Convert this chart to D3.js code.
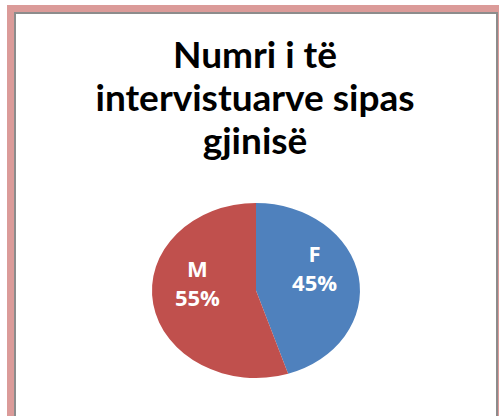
<!DOCTYPE html>
<html>
<head>
<meta charset="utf-8">
<script src="https://cdn.jsdelivr.net/npm/d3@7"></script>
<style>
  body { margin: 0; background: #fff; }
  svg { display: block; }
</style>
</head>
<body>
<div class="chart"></div>
<script>
// data
var categories = ["F", "M"]
var values = [45, 55]
var colors = ["#4F81BD", "#C0504D"]
var titleLines = ["Numri i të", "intervistuarve sipas", "gjinisë"]

var width = 499, height = 416
var svg = d3.select(".chart").append("svg")
    .attr("width", width)
    .attr("height", height)

// frame: pink outer band, grey inner border, white area
svg.append("rect").attr("x", 7).attr("y", 5).attr("width", 500).attr("height", 420).attr("fill", "#DB9B99")
svg.append("rect").attr("x", 14).attr("y", 12).attr("width", 484).attr("height", 420).attr("fill", "#8C8C8C")
svg.append("rect").attr("x", 16).attr("y", 14).attr("width", 480).attr("height", 420).attr("fill", "#ffffff")

// title
svg.append("g").selectAll("text")
    .data(titleLines)
    .enter().append("text")
    .attr("x", 255)
    .attr("y", function(d, i) { return 68 + i * 43; })
    .attr("text-anchor", "middle")
    .attr("font-family", "Lato, 'Open Sans', sans-serif")
    .attr("font-weight", "bold")
    .attr("font-size", 37)
    .attr("fill", "#000")
    .text(function(d) { return d; })

// pie, drawn on a unit circle and stretched into an ellipse
var cx = 256, cy = 290.5, rx = 104, ry = 87.5
var pie = d3.pie().sort(null).value(function(d) { return d; })
var arcs = pie(values)
var arc = d3.arc().innerRadius(0).outerRadius(1)
var labelArc = d3.arc().innerRadius(0.57).outerRadius(0.57)

var g = svg.append("g").attr("transform", "translate(" + cx + "," + cy + ")")
g.append("g")
    .attr("transform", "scale(" + rx + "," + ry + ")")
  .selectAll("path")
    .data(arcs)
    .enter().append("path")
    .attr("d", arc)
    .attr("fill", function(d, i) { return colors[i]; })

var total = d3.sum(values)
var lbl = g.append("g").selectAll("text")
    .data(arcs)
    .enter().append("text")
    .attr("transform", function(d) {
      var c = labelArc.centroid(d)
      return "translate(" + (c[0] * rx) + "," + (c[1] * ry) + ")";
    })
    .attr("text-anchor", "middle")
    .attr("font-family", "'Open Sans', Lato, sans-serif")
    .attr("font-weight", "bold")
    .attr("font-size", 22)
    .attr("fill", "#fff")
lbl.append("tspan").attr("x", 0).attr("dy", -21).text(function(d, i) { return categories[i]; })
lbl.append("tspan").attr("x", 0).attr("dy", 29).text(function(d) { return Math.round(d.value / total * 100) + "%"; })
</script>
</body>
</html>
